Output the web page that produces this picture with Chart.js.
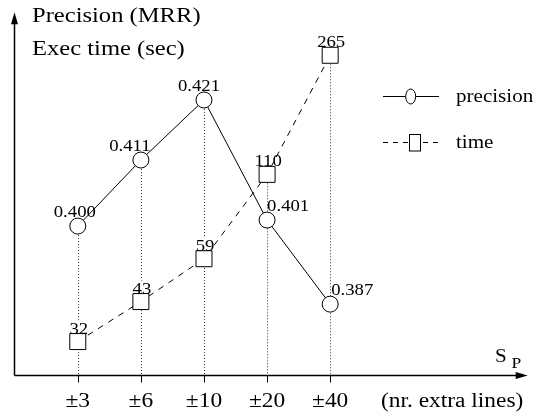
<!DOCTYPE html>
<html>
<head>
<meta charset="utf-8">
<script src="https://cdn.jsdelivr.net/npm/chart.js@4.4.1/dist/chart.umd.min.js"></script>
<style>
    html, body { margin: 0; padding: 0; background: #fff; }
</style>
</head>
<body>
<canvas id="myChart" width="540" height="412"></canvas>
<script>
const categories = ['±3', '±6', '±10', '±20', '±40'];
const precision = [0.400, 0.411, 0.421, 0.401, 0.387];
const precisionLabels = ['0.400', '0.411', '0.421', '0.401', '0.387'];
const execTime = [32, 43, 59, 110, 265];
const timeLabels = ['32', '43', '59', '110', '265'];

// where each precision label sits relative to its point (style only)
const precAlign = ['center', 'center', 'center', 'left', 'left'];
const precShift = [-3, -11, -5, 0, 1];

const FONT = '"Liberation Serif", "Times New Roman", serif';
const STRETCH = 1.17;


function stretchText(ctx, text, x, y, size, align) {
    ctx.save();
    ctx.font = size + 'px ' + FONT;
    ctx.textAlign = align || 'left';
    ctx.textBaseline = 'alphabetic';
    ctx.fillStyle = '#000';
    ctx.translate(x, y);
    ctx.scale(STRETCH, 1);
    ctx.fillText(text, 0, 0);
    ctx.restore();
}


function textWidth(ctx, text, size) {
    ctx.save();
    ctx.font = size + 'px ' + FONT;
    let w = ctx.measureText(text).width * STRETCH;
    ctx.restore();
    return w;
}


const decorPlugin = {
    id: 'decor',
    beforeDatasetsDraw(chart) {
        const ctx = chart.ctx;
        const area = chart.chartArea;
        const xs = chart.scales.x;
        const yp = chart.scales.yPrec;
        const yt = chart.scales.yTime;
        const axisY = area.bottom + 0.5;
        const axisX = area.left - 0.5;

        ctx.save();
        // dotted drop lines
        ctx.strokeStyle = '#333';
        ctx.lineWidth = 1;
        ctx.setLineDash([1, 2]);
        for (let i = 0; i < categories.length; i++) {
            let px = Math.round(xs.getPixelForValue(i)) + 0.5;
            let top = Math.min(yp.getPixelForValue(precision[i]), yt.getPixelForValue(execTime[i]));
            ctx.beginPath();
            ctx.moveTo(px, top);
            ctx.lineTo(px, axisY);
            ctx.stroke();
        }
        ctx.setLineDash([]);

        // white boxes behind time labels so the dotted lines stop there
        ctx.fillStyle = '#fff';
        for (let i = 0; i < execTime.length; i++) {
            let px = xs.getPixelForValue(i) + 1;
            let py = yt.getPixelForValue(execTime[i]) - 8;
            let w = textWidth(ctx, timeLabels[i], 16);
            ctx.fillRect(px - w / 2, py - 13, w, 12);
        }

        // tick marks
        ctx.strokeStyle = '#000';
        ctx.lineWidth = 1;
        for (let i = 0; i < categories.length; i++) {
            let px = Math.round(xs.getPixelForValue(i)) + 0.5;
            ctx.beginPath();
            ctx.moveTo(px, axisY);
            ctx.lineTo(px, axisY + 7);
            ctx.stroke();
        }

        // axes with arrow heads
        ctx.lineWidth = 1.5;
        ctx.beginPath();
        ctx.moveTo(axisX, axisY);
        ctx.lineTo(axisX, area.top + 10);
        ctx.moveTo(axisX, axisY);
        ctx.lineTo(area.right - 10, axisY);
        ctx.stroke();
        ctx.fillStyle = '#000';
        ctx.beginPath();
        ctx.moveTo(axisX, area.top);
        ctx.lineTo(axisX - 3.5, area.top + 12);
        ctx.lineTo(axisX + 3.5, area.top + 12);
        ctx.closePath();
        ctx.fill();
        ctx.beginPath();
        ctx.moveTo(area.right, axisY);
        ctx.lineTo(area.right - 12, axisY - 3.5);
        ctx.lineTo(area.right - 12, axisY + 3.5);
        ctx.closePath();
        ctx.fill();
        ctx.restore();
    },
    afterDatasetsDraw(chart) {
        const ctx = chart.ctx;
        const area = chart.chartArea;
        const xs = chart.scales.x;
        const yp = chart.scales.yPrec;
        const yt = chart.scales.yTime;

        // value labels
        for (let i = 0; i < precision.length; i++) {
            let px = xs.getPixelForValue(i) + precShift[i];
            let py = yp.getPixelForValue(precision[i]) - 9;
            stretchText(ctx, precisionLabels[i], px, py, 16, precAlign[i]);
        }
        for (let i = 0; i < execTime.length; i++) {
            let px = xs.getPixelForValue(i) + 1;
            let py = yt.getPixelForValue(execTime[i]) - 8;
            stretchText(ctx, timeLabels[i], px, py, 16, 'center');
        }

        // category labels under the axis
        for (let i = 0; i < categories.length; i++) {
            stretchText(ctx, categories[i], xs.getPixelForValue(i), area.bottom + 32, 20, 'center');
        }
        stretchText(ctx, '(nr. extra lines)', 381, area.bottom + 32, 20, 'left');

        // axis titles
        stretchText(ctx, 'Precision (MRR)', 32, 22, 21);
        stretchText(ctx, 'Exec time (sec)', 32, 55, 21);
        stretchText(ctx, 'S', 495, 362, 18);
        stretchText(ctx, 'P', 511.5, 368, 15);

        // legend
        ctx.save();
        ctx.strokeStyle = '#000';
        ctx.lineWidth = 1;
        ctx.beginPath();
        ctx.moveTo(383, 96.5);
        ctx.lineTo(439, 96.5);
        ctx.stroke();
        ctx.fillStyle = '#fff';
        ctx.beginPath();
        ctx.ellipse(410.7, 96.5, 5, 7.5, 0, 0, Math.PI * 2);
        ctx.fill();
        ctx.stroke();
        ctx.setLineDash([5, 5]);
        ctx.beginPath();
        ctx.moveTo(383, 142.5);
        ctx.lineTo(439, 142.5);
        ctx.stroke();
        ctx.setLineDash([]);
        ctx.fillRect(409.5, 134.5, 11, 16.5);
        ctx.strokeRect(409.5, 134.5, 11, 16.5);
        ctx.restore();
        stretchText(ctx, 'precision', 456, 102, 18);
        stretchText(ctx, 'time', 456, 148, 18);
    }
};


function createChart() {
    const ctx = document.getElementById('myChart').getContext('2d');
    new Chart(ctx, {
        type: 'line',
        data: {
            datasets: [{
                label: 'precision',
                data: precision.map((v, i) => ({ x: i, y: v })),
                yAxisID: 'yPrec',
                borderColor: '#000',
                borderWidth: 1,
                pointStyle: 'circle',
                pointRadius: 8,
                pointBackgroundColor: '#fff',
                pointBorderColor: '#000',
                pointBorderWidth: 1,
                tension: 0
            }, {
                label: 'time',
                data: execTime.map((v, i) => ({ x: i, y: v })),
                yAxisID: 'yTime',
                borderColor: '#000',
                borderWidth: 1,
                borderDash: [6, 6],
                pointStyle: 'rect',
                pointRadius: 11.3,
                pointBackgroundColor: '#fff',
                pointBorderColor: '#000',
                pointBorderWidth: 1,
                tension: 0
            }]
        },
        options: {
            responsive: false,
            animation: false,
            devicePixelRatio: 1,
            layout: { padding: { left: 15, right: 5, top: 8, bottom: 37 } },
            plugins: {
                legend: { display: false },
                tooltip: { enabled: false }
            },
            scales: {
                x: { type: 'linear', display: false, min: -0.995, max: 7.13 },
                yPrec: { type: 'linear', display: false, min: 0.3752, max: 0.4356 },
                yTime: { type: 'logarithmic', display: false, min: 25, max: 364 }
            }
        },
        plugins: [decorPlugin]
    });
}

createChart();
</script>
</body>
</html>
